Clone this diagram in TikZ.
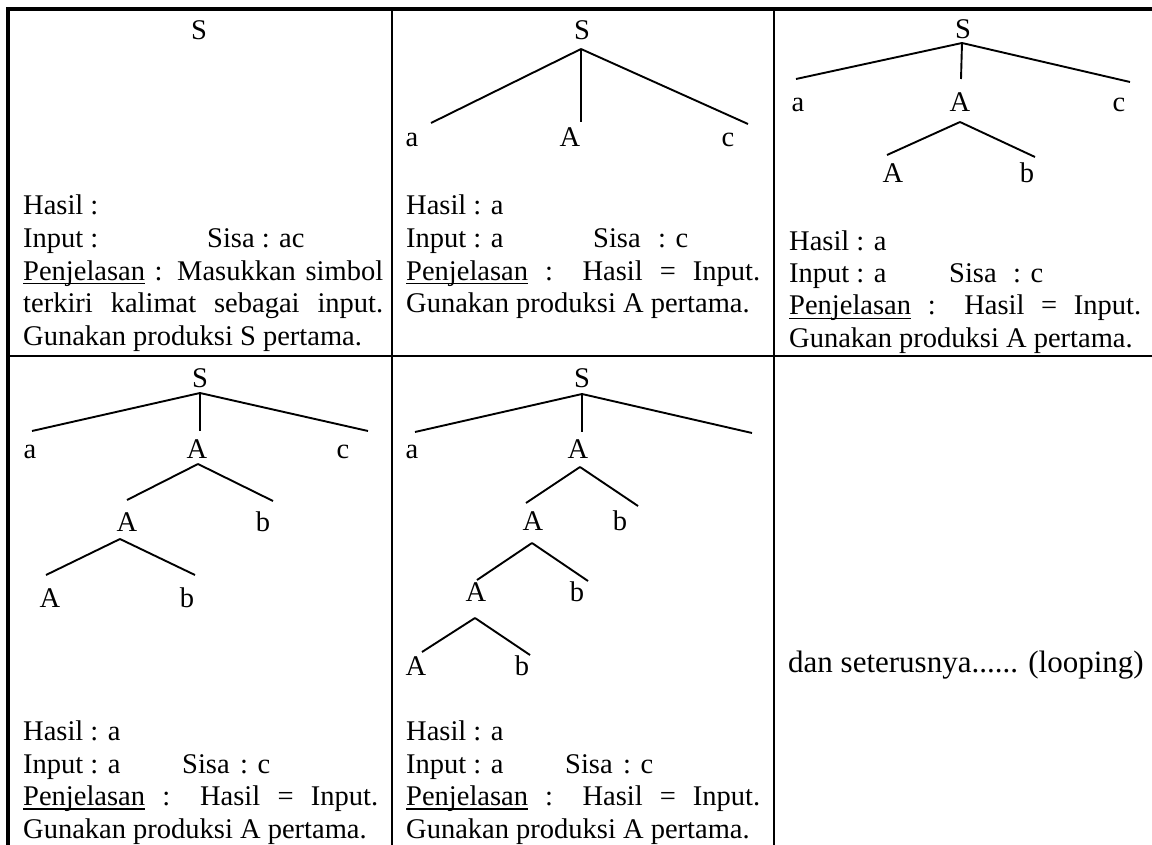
\documentclass[tikz,border=0pt]{standalone}
\usepackage{fontspec}
\setmainfont{Liberation Serif}
\newcommand{\cellfont}{\fontsize{28.5pt}{32.5pt}\selectfont}
\newcommand{\myul}[1]{\setbox0\hbox{#1}\rlap{\rule[-4.5pt]{\wd0}{1.6pt}}\box0\relax}
\tikzset{
  lbl/.style={inner sep=0pt, anchor=base, font=\cellfont},
  ln/.style={inner sep=0pt, anchor=base west, font=\cellfont},
  branch/.style={line width=1.9pt},
  outer/.style={line width=4pt},
  grid/.style={line width=2pt}
}
\begin{document}
\begin{tikzpicture}[x=1pt,y=-1pt]
\useasboundingbox (0,0) rectangle (1152,845);
% table frame
\coordinate (tl) at (8,850);
\coordinate (tc) at (8,9);
\coordinate (tr) at (1170,9);
\draw[outer] (tl) -- (tc) -- (tr);
\coordinate (v1t) at (391.5,9);  \coordinate (v1b) at (391.5,850);
\coordinate (v2t) at (773.5,9);  \coordinate (v2b) at (773.5,850);
\coordinate (hl) at (8,356);     \coordinate (hr) at (1170,356);
\draw[grid] (v1t) -- (v1b);
\draw[grid] (v2t) -- (v2b);
\draw[grid] (hl) -- (hr);

% ---------- row 1, cell 1 ----------
\node[lbl] (s11) at (199,40) {S};
\node[ln] (t11a) at (23,215) {Hasil :};
\node[ln] (t11b) at (23,247.5) {\makebox[184pt][l]{Input :}Sisa : ac};
\node[ln] (t11c) at (23,280) {\makebox[360pt][s]{\myul{Penjelasan} : Masukkan simbol}};
\node[ln] (t11d) at (23,312.5) {\makebox[360pt][s]{terkiri kalimat sebagai input.}};
\node[ln] (t11e) at (23,345) {Gunakan produksi S pertama.};

% ---------- row 1, cell 2 ----------
\node[lbl] (s12) at (582,40) {S};
\coordinate (p12) at (581,49);
\coordinate (e12a) at (431,123);
\coordinate (e12A) at (581,122);
\coordinate (e12c) at (748,124);
\node[lbl] (a12) at (412,147) {a};
\node[lbl] (A12) at (570,147) {A};
\node[lbl] (c12) at (728,147) {c};
\draw[branch] (p12) -- (e12a);
\draw[branch] (p12) -- (e12A);
\draw[branch] (p12) -- (e12c);
\node[ln] (t12a) at (406,215) {Hasil : a};
\node[ln] (t12b) at (406,247.5) {\makebox[187pt][l]{Input : a}\makebox[65pt][l]{Sisa}: c};
\node[ln] (t12c) at (406,280) {\makebox[354pt][s]{\myul{Penjelasan} : Hasil = Input.}};
\node[ln] (t12d) at (406,312.5) {Gunakan produksi A pertama.};

% ---------- row 1, cell 3 ----------
\node[lbl] (s13) at (963,39) {S};
\coordinate (p13) at (962,43);
\coordinate (e13a) at (796,79);
\coordinate (e13A) at (961,79);
\coordinate (e13c) at (1130,82);
\draw[branch] (p13) -- (e13a);
\draw[branch] (p13) -- (e13A);
\draw[branch] (p13) -- (e13c);
\node[lbl] (a13) at (798,112) {a};
\node[lbl] (A13) at (960,112) {A};
\node[lbl] (c13) at (1119,112) {c};
\coordinate (q13) at (960,122);
\coordinate (f13A) at (887,155);
\coordinate (f13b) at (1035,157);
\draw[branch] (q13) -- (f13A);
\draw[branch] (q13) -- (f13b);
\node[lbl] (A13b) at (893,183) {A};
\node[lbl] (b13) at (1027,183) {b};
\node[ln] (t13a) at (789,251) {Hasil : a};
\node[ln] (t13b) at (789,283) {\makebox[160pt][l]{Input : a}\makebox[64pt][l]{Sisa}: c};
\node[ln] (t13c) at (789,315) {\makebox[352pt][s]{\myul{Penjelasan} : Hasil = Input.}};
\node[ln] (t13d) at (789,347.5) {Gunakan produksi A pertama.};

% ---------- row 2, cell 1 ----------
\node[lbl] (s21) at (200,387) {S};
\coordinate (p21) at (200,393);
\coordinate (e21a) at (32,431);
\coordinate (e21A) at (200,431);
\coordinate (e21c) at (368,431);
\draw[branch] (p21) -- (e21a);
\draw[branch] (p21) -- (e21A);
\draw[branch] (p21) -- (e21c);
\node[lbl] (a21) at (30,458) {a};
\node[lbl] (A21) at (197,458) {A};
\node[lbl] (c21) at (343,458) {c};
\coordinate (q21) at (198,464);
\coordinate (f21A) at (127,500);
\coordinate (f21b) at (273,501);
\draw[branch] (q21) -- (f21A);
\draw[branch] (q21) -- (f21b);
\node[lbl] (A21b) at (127,531) {A};
\node[lbl] (b21) at (263,531) {b};
\coordinate (r21) at (120,539);
\coordinate (g21A) at (46,575);
\coordinate (g21b) at (195,575);
\draw[branch] (r21) -- (g21A);
\draw[branch] (r21) -- (g21b);
\node[lbl] (A21c) at (50,607) {A};
\node[lbl] (b21c) at (187,607) {b};
\node[ln] (t21a) at (23,740.5) {Hasil : a};
\node[ln] (t21b) at (23,773) {\makebox[159pt][l]{Input : a}\makebox[58pt][l]{Sisa}: c};
\node[ln] (t21c) at (23,805.5) {\makebox[355pt][s]{\myul{Penjelasan} : Hasil = Input.}};
\node[ln] (t21d) at (23,838) {Gunakan produksi A pertama.};

% ---------- row 2, cell 2 ----------
\node[lbl] (s22) at (582,387) {S};
\coordinate (p22) at (582,394);
\coordinate (e22a) at (415,432);
\coordinate (e22A) at (582,432);
\coordinate (e22c) at (752,433);
\draw[branch] (p22) -- (e22a);
\draw[branch] (p22) -- (e22A);
\draw[branch] (p22) -- (e22c);
\node[lbl] (a22) at (412,458) {a};
\node[lbl] (A22) at (578,458) {A};
\coordinate (q22) at (580,467);
\coordinate (f22A) at (526,503);
\coordinate (f22b) at (638,506);
\draw[branch] (q22) -- (f22A);
\draw[branch] (q22) -- (f22b);
\node[lbl] (A22b) at (533,530) {A};
\node[lbl] (b22) at (620,530) {b};
\coordinate (r22) at (532,543);
\coordinate (g22A) at (477,580);
\coordinate (g22b) at (588,581);
\draw[branch] (r22) -- (g22A);
\draw[branch] (r22) -- (g22b);
\node[lbl] (A22c) at (476,601) {A};
\node[lbl] (b22c) at (577,601) {b};
\coordinate (u22) at (475,618);
\coordinate (h22A) at (422,652);
\coordinate (h22b) at (530,655);
\draw[branch] (u22) -- (h22A);
\draw[branch] (u22) -- (h22b);
\node[lbl] (A22d) at (416,675) {A};
\node[lbl] (b22d) at (522,675) {b};
\node[ln] (t22a) at (406,740.5) {Hasil : a};
\node[ln] (t22b) at (406,773) {\makebox[159pt][l]{Input : a}\makebox[58pt][l]{Sisa}: c};
\node[ln] (t22c) at (406,805.5) {\makebox[354pt][s]{\myul{Penjelasan} : Hasil = Input.}};
\node[ln] (t22d) at (406,838) {Gunakan produksi A pertama.};

% ---------- row 2, cell 3 ----------
\node[ln, font=\fontsize{31pt}{36pt}\selectfont] (t23) at (788,672) {dan seterusnya...... (looping)};
\end{tikzpicture}
\end{document}
